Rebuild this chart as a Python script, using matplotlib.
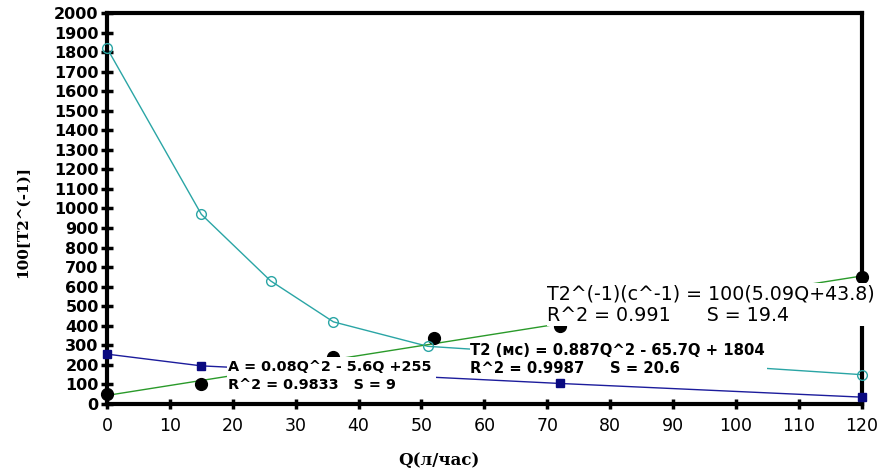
import matplotlib.pyplot as plt
from matplotlib.patches import Rectangle
import numpy as np

# T2 (ms) series - open cyan circles
q_t2 = [0, 15, 26, 36, 51, 120]
t2 = [1820, 970, 630, 420, 295, 150]

# A series - blue squares
q_a = [0, 15, 72, 120]
a = [255, 195, 105, 35]

# 100*T2^-1 series - black dots
q_inv = [0, 15, 36, 52, 72, 120]
t2_inv = [50, 100, 240, 340, 400, 650]
fit_k, fit_b = 5.09, 43.8

x_ticks = list(range(0, 121, 10))
y_ticks = list(range(0, 2001, 100))

fig = plt.figure(figsize=(8.81, 4.71), dpi=100)
ax = fig.add_axes([0.1215, 0.1423, 0.8565, 0.8301])

ax.plot(q_t2, t2, color='#2aa5a5', lw=1, zorder=2)
ax.plot(q_t2, t2, 'o', mfc='none', mec='#2aa5a5', ms=7, mew=1, zorder=6, clip_on=False)

ax.plot(q_a, a, color='#1c1c9c', lw=1, zorder=2)
ax.plot(q_a, a, 's', color='#0a0a80', ms=6, zorder=6, clip_on=False)

qf = np.array([0, 120])
ax.plot(qf, fit_k * qf + fit_b, color='#2a9a2a', lw=1, zorder=2)
ax.plot(q_inv, t2_inv, 'o', color='black', ms=8.5, zorder=3.5, clip_on=False)

# white label boxes that hide lines behind the equations
for (x0, x1, y0, y1) in [(19.1, 52.3, 41, 240), (57.7, 104.9, 133, 322), (69.9, 122.5, 399, 620)]:
    ax.add_patch(Rectangle((x0, y0), x1 - x0, y1 - y0, facecolor='white',
                           edgecolor='none', clip_on=False, zorder=4.5))

ax.text(19.2, 189, 'A = 0.08Q^2 - 5.6Q +255', fontsize=10.4, fontweight='bold',
        va='center', ha='left', zorder=5)
ax.text(19.2, 97, 'R^2 = 0.9833   S = 9', fontsize=10.4, fontweight='bold',
        va='center', ha='left', zorder=5)
ax.text(57.8, 276, 'T2 (мс) = 0.887Q^2 - 65.7Q + 1804', fontsize=10.7, fontweight='bold',
        va='center', ha='left', zorder=5)
ax.text(57.8, 184, 'R^2 = 0.9987     S = 20.6', fontsize=10.7, fontweight='bold',
        va='center', ha='left', zorder=5)
ax.text(70.0, 564, 'T2^(-1)(c^-1) = 100(5.09Q+43.8)', fontsize=13.7,
        va='center', ha='left', zorder=5)
ax.text(70.0, 455, 'R^2 = 0.991      S = 19.4', fontsize=13.7,
        va='center', ha='left', zorder=5)

ax.set_xlim(0, 120)
ax.set_ylim(0, 2000)
ax.set_xticks(x_ticks)
ax.set_yticks(y_ticks)
ax.tick_params(axis='y', direction='inout', length=8, width=2.5, labelsize=11.5, pad=2)
ax.tick_params(axis='x', direction='inout', length=7, width=2.5, labelsize=12.5, pad=6)
for lab in ax.get_yticklabels():
    lab.set_fontweight('bold')
for s in ax.spines.values():
    s.set_linewidth(3)
    s.set_zorder(4)

ax.set_xlabel('Q(л/час)', family='DejaVu Serif', fontweight='bold', fontsize=12)
ax.set_ylabel('100[T2^(-1)]', family='DejaVu Serif', fontweight='bold', fontsize=11)
ax.xaxis.set_label_coords(0.44, -0.123)
ax.yaxis.set_label_coords(-0.102, 0.465)

fig.savefig('out.png', dpi=100)
